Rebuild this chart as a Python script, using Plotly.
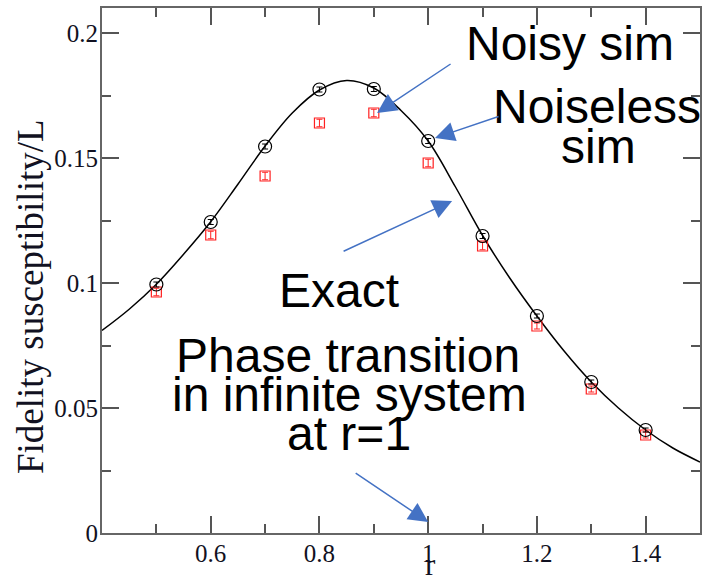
import plotly.graph_objects as go

# ---- data ----
r_exact = [0.40, 0.45, 0.50, 0.55, 0.60, 0.65, 0.70, 0.75, 0.80, 0.85, 0.90, 0.95,
           1.00, 1.05, 1.10, 1.15, 1.20, 1.25, 1.30, 1.35, 1.40, 1.45, 1.50]
chi_exact = [0.0810, 0.0895, 0.0995, 0.1115, 0.1245, 0.1395, 0.1548, 0.1680, 0.1772,
             0.1810, 0.1780, 0.1690, 0.1568, 0.1385, 0.1190, 0.1020, 0.0868, 0.0728,
             0.0604, 0.0500, 0.0412, 0.0340, 0.0284]

r_sim = [0.5, 0.6, 0.7, 0.8, 0.9, 1.0, 1.1, 1.2, 1.3, 1.4]
chi_noiseless = [0.0994, 0.1244, 0.1546, 0.1774, 0.1776, 0.1568, 0.1188, 0.0868, 0.0604, 0.0412]
err_noiseless = [0.0010, 0.0010, 0.0010, 0.0010, 0.0010, 0.0010, 0.0010, 0.0008, 0.0008, 0.0008]
chi_noisy = [0.0964, 0.1192, 0.1428, 0.1640, 0.1680, 0.1480, 0.1148, 0.0828, 0.0576, 0.0392]
err_noisy = [0.0015, 0.0015, 0.0015, 0.0015, 0.0015, 0.0015, 0.0015, 0.0012, 0.0012, 0.0012]

x_ticks = [0.6, 0.8, 1.0, 1.2, 1.4]
x_ticktext = ["0.6", "0.8", "1", "1.2", "1.4"]
x_minor = [0.5, 0.7, 0.9, 1.1, 1.3]
y_ticks = [0, 0.05, 0.1, 0.15, 0.2]
y_ticktext = ["0", "0.05", "0.1", "0.15", "0.2"]
y_minor = [0.025, 0.075, 0.125, 0.175]

W, H = 702, 583
ML, MR, MT, MB = 102, 2, 8, 50
PW, PH = W - ML - MR, H - MT - MB

fig = go.Figure()
fig.add_trace(go.Scatter(x=r_exact, y=chi_exact, mode="lines", line=dict(color="black", width=1.5, shape="spline"),
                         name="Exact", hoverinfo="skip"))
fig.add_trace(go.Scatter(x=r_sim, y=chi_noisy, mode="markers",
                         marker=dict(symbol="square-open", size=10, color="#ff2020", line=dict(width=1.2)),
                         error_y=dict(type="data", array=err_noisy, color="#ff2020", thickness=1, width=3),
                         name="Noisy sim"))
fig.add_trace(go.Scatter(x=r_sim, y=chi_noiseless, mode="markers",
                         marker=dict(symbol="circle-open", size=13, color="black", line=dict(width=1.2)),
                         error_y=dict(type="data", array=err_noiseless, color="black", thickness=1, width=3),
                         name="Noiseless sim"))

txt_font = dict(family="Liberation Sans, Arial", size=48, color="black")
texts = [
    ("Noisy sim", 1.261, 0.1960),
    ("Noiseless", 1.311, 0.1705),
    ("sim", 1.314, 0.1548),
    ("Exact", 0.836, 0.0970),
    ("Phase transition", 0.8525, 0.0712),
    ("in infinite system", 0.8545, 0.0556),
    ("at r=1", 0.855, 0.0400),
]
for t, x, y in texts:
    fig.add_annotation(x=x, y=y, text=t, showarrow=False, font=txt_font,
                       xanchor="center", yanchor="middle")

arrows = [
    (0.906, 0.168, 75, -50),
    (1.0126, 0.158, 65, -22),
    (1.044, 0.1328, -110, 51),
    (1.0, 0.0044, -74, -50),
]
for x, y, ax, ay in arrows:
    fig.add_annotation(x=x, y=y, ax=ax, ay=ay, text="", showarrow=True,
                       arrowhead=2, arrowsize=2.6, arrowwidth=1.5, arrowcolor="#4472C4",
                       standoff=0, startstandoff=0)

title_font = dict(family="Liberation Serif, Times New Roman", size=37, color="#111122")
# axis titles as paper-anchored annotations
fig.add_annotation(xref="paper", yref="paper", x=(30 - ML) / PW, y=(H - MB - 297) / PH,
                   text="Fidelity susceptibility/L", textangle=-90, showarrow=False,
                   font=title_font, xanchor="center", yanchor="middle")
fig.add_annotation(xref="paper", yref="paper", x=(430 - ML) / PW, y=-MB / PH,
                   text="r", showarrow=False, font=dict(title_font, size=31),
                   xanchor="center", yanchor="bottom", borderpad=0)

axis_common = dict(showline=True, linewidth=2, linecolor="#666666", mirror="ticks",
                   ticks="inside", ticklen=17, tickwidth=1.5, tickcolor="#555555",
                   showgrid=False, zeroline=False, automargin=False,
                   tickfont=dict(family="Liberation Serif, Times New Roman", size=25, color="#111122"))

fig.update_xaxes(range=[0.4, 1.5], tickmode="array", tickvals=x_ticks, ticktext=x_ticktext,
                 minor=dict(tickmode="array", tickvals=x_minor, ticks="inside", ticklen=9,
                            tickwidth=1.5, tickcolor="#555555"),
                 ticklabelstandoff=-3,
                 **axis_common)
fig.update_yaxes(range=[0, 0.21], tickmode="array", tickvals=y_ticks, ticktext=y_ticktext,
                 minor=dict(tickmode="array", tickvals=y_minor, ticks="inside", ticklen=9,
                            tickwidth=1.5, tickcolor="#555555"),
                 ticklabelstandoff=-3,
                 **axis_common)

fig.update_layout(width=W, height=H, margin=dict(l=ML, r=MR, t=MT, b=MB),
                  plot_bgcolor="white", paper_bgcolor="white", showlegend=False)

fig.write_html("out.html", config={"displayModeBar": False},
               post_script="document.body.style.margin='0';document.body.style.overflow='hidden';")
